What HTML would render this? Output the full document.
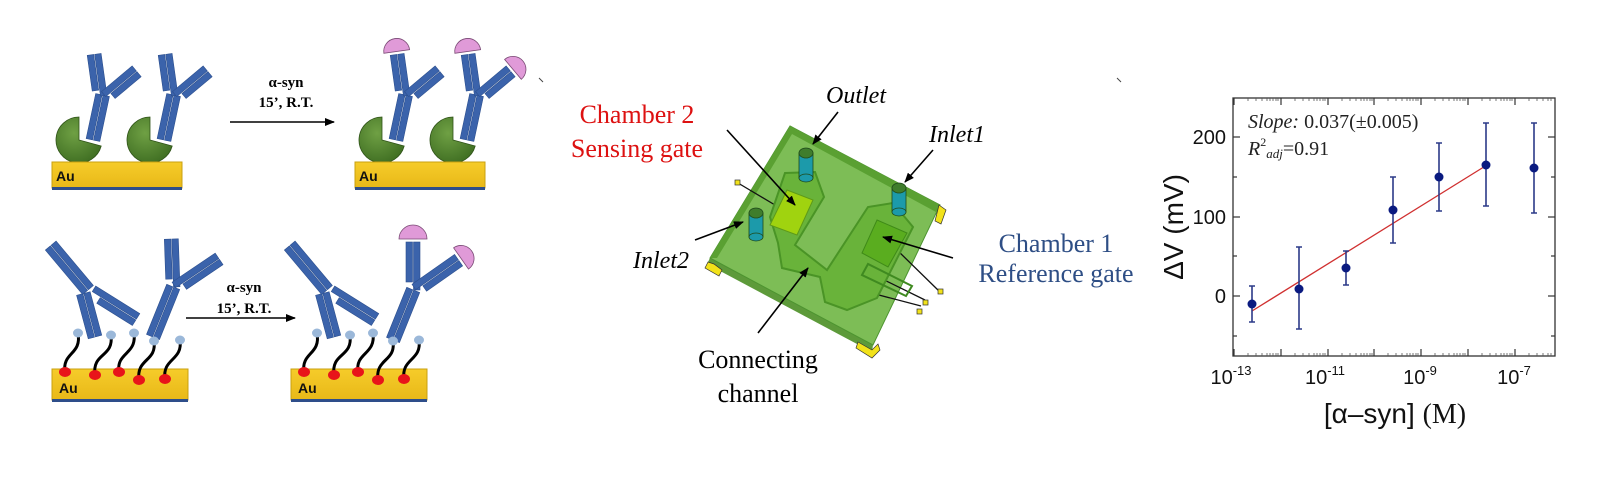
<!DOCTYPE html>
<html><head><meta charset="utf-8"><style>
html,body{margin:0;padding:0;background:#fff;}
svg{display:block;}
</style></head><body>
<svg width="1598" height="488" viewBox="0 0 1598 488" xmlns="http://www.w3.org/2000/svg">
<defs>
<marker id="ah" markerWidth="10" markerHeight="8" refX="9" refY="4" orient="auto" markerUnits="userSpaceOnUse">
<path d="M0,0 L10,4 L0,8 Z" fill="#000"/></marker>
<linearGradient id="au" x1="0" y1="0" x2="0" y2="1"><stop offset="0" stop-color="#f6cc2a"/><stop offset="1" stop-color="#e8b818"/></linearGradient>
<radialGradient id="pac" cx="0.4" cy="0.35" r="0.7"><stop offset="0" stop-color="#6fa044"/><stop offset="1" stop-color="#3f6e22"/></radialGradient>
</defs>

<!-- ============ LEFT PANEL ============ -->
<g fill="#3b63ab" stroke="#2c4f8e" stroke-width="0.6">
<!-- top-left AB1 -->
<g transform="translate(93,140) rotate(12)"><rect x="-7" y="-46" width="6.5" height="46"/><rect x="0.5" y="-46" width="6.5" height="46"/></g>
<g transform="translate(100,96) rotate(-8)"><rect x="-7" y="-42" width="6.5" height="36"/><rect x="0.5" y="-42" width="6.5" height="42"/></g>
<g transform="translate(106,97) rotate(50)"><rect x="-7" y="-40" width="6.5" height="40"/><rect x="0.5" y="-40" width="6.5" height="34"/></g>
<!-- top-left AB2 -->
<g transform="translate(164,140) rotate(12)"><rect x="-7" y="-46" width="6.5" height="46"/><rect x="0.5" y="-46" width="6.5" height="46"/></g>
<g transform="translate(171,96) rotate(-8)"><rect x="-7" y="-42" width="6.5" height="36"/><rect x="0.5" y="-42" width="6.5" height="42"/></g>
<g transform="translate(177,97) rotate(50)"><rect x="-7" y="-40" width="6.5" height="40"/><rect x="0.5" y="-40" width="6.5" height="34"/></g>
<!-- top-right AB1 -->
<g transform="translate(396,140) rotate(12)"><rect x="-7" y="-46" width="6.5" height="46"/><rect x="0.5" y="-46" width="6.5" height="46"/></g>
<g transform="translate(403,96) rotate(-8)"><rect x="-7" y="-42" width="6.5" height="36"/><rect x="0.5" y="-42" width="6.5" height="42"/></g>
<g transform="translate(409,97) rotate(50)"><rect x="-7" y="-40" width="6.5" height="40"/><rect x="0.5" y="-40" width="6.5" height="34"/></g>
<!-- top-right AB2 -->
<g transform="translate(467,140) rotate(12)"><rect x="-7" y="-46" width="6.5" height="46"/><rect x="0.5" y="-46" width="6.5" height="46"/></g>
<g transform="translate(474,96) rotate(-8)"><rect x="-7" y="-42" width="6.5" height="36"/><rect x="0.5" y="-42" width="6.5" height="42"/></g>
<g transform="translate(480,97) rotate(50)"><rect x="-7" y="-40" width="6.5" height="40"/><rect x="0.5" y="-40" width="6.5" height="34"/></g>

<!-- bottom-left AB1 -->
<g transform="translate(95,337) rotate(-15)"><rect x="-7" y="-45" width="6.5" height="45"/><rect x="0.5" y="-45" width="6.5" height="45"/></g>
<g transform="translate(88,290) rotate(-40)"><rect x="-7" y="-58" width="6.5" height="58"/><rect x="0.5" y="-58" width="6.5" height="58"/></g>
<g transform="translate(92,292) rotate(122)"><rect x="-7" y="-52" width="6.5" height="52"/><rect x="0.5" y="-52" width="6.5" height="42"/></g>
<!-- bottom-left AB2 -->
<g transform="translate(153,337) rotate(22)"><rect x="-7" y="-54" width="6.5" height="54"/><rect x="0.5" y="-54" width="6.5" height="54"/></g>
<g transform="translate(173,287) rotate(-2)"><rect x="-7" y="-48" width="6.5" height="40"/><rect x="0.5" y="-48" width="6.5" height="48"/></g>
<g transform="translate(176,288) rotate(56)"><rect x="-7" y="-52" width="6.5" height="52"/><rect x="0.5" y="-52" width="6.5" height="44"/></g>
<!-- bottom-right AB1 -->
<g transform="translate(334,337) rotate(-15)"><rect x="-7" y="-45" width="6.5" height="45"/><rect x="0.5" y="-45" width="6.5" height="45"/></g>
<g transform="translate(327,290) rotate(-40)"><rect x="-7" y="-58" width="6.5" height="58"/><rect x="0.5" y="-58" width="6.5" height="58"/></g>
<g transform="translate(331,292) rotate(122)"><rect x="-7" y="-52" width="6.5" height="52"/><rect x="0.5" y="-52" width="6.5" height="42"/></g>
<!-- bottom-right AB2 -->
<g transform="translate(393,340) rotate(22)"><rect x="-7" y="-54" width="6.5" height="54"/><rect x="0.5" y="-54" width="6.5" height="54"/></g>
<g transform="translate(413,290) rotate(0)"><rect x="-7" y="-48" width="6.5" height="40"/><rect x="0.5" y="-48" width="6.5" height="48"/></g>
<g transform="translate(416,290) rotate(55)"><rect x="-7" y="-52" width="6.5" height="52"/><rect x="0.5" y="-52" width="6.5" height="44"/></g>
</g>

<!-- antigens -->
<g fill="#e09ad8" stroke="#7a4a75" stroke-width="0.8">
<g transform="translate(403,96) rotate(-8)"><path d="M-13,-45 A13,13 0 0 1 13,-45 Z"/></g>
<g transform="translate(474,96) rotate(-8)"><path d="M-13,-45 A13,13 0 0 1 13,-45 Z"/></g>
<g transform="translate(480,97) rotate(50)"><path d="M-13,-43 A13,13 0 0 1 13,-43 Z"/></g>
<g transform="translate(413,290)"><path d="M-14,-51 A14,14 0 0 1 14,-51 Z"/></g>
<g transform="translate(416,290) rotate(55)"><path d="M-13,-55 A13,13 0 0 1 13,-55 Z"/></g>
</g>

<!-- pacmen -->
<g fill="url(#pac)" stroke="#2f5318" stroke-width="0.8">
<path d="M79,140 L101.2,146 A23,23 0 1 1 79,117 Z"/>
<path d="M150,140 L172.2,146 A23,23 0 1 1 150,117 Z"/>
<path d="M382,140 L404.2,146 A23,23 0 1 1 382,117 Z"/>
<path d="M453,140 L475.2,146 A23,23 0 1 1 453,117 Z"/>
</g>

<!-- Au bars -->
<g>
<rect x="52" y="162" width="130" height="26" fill="url(#au)" stroke="#c9a010" stroke-width="1"/><rect x="52" y="187" width="130" height="3" fill="#2e4e8a"/>
<rect x="355" y="162" width="130" height="26" fill="url(#au)" stroke="#c9a010" stroke-width="1"/><rect x="355" y="187" width="130" height="3" fill="#2e4e8a"/>
<rect x="52" y="369" width="136" height="31" fill="url(#au)" stroke="#c9a010" stroke-width="1"/><rect x="52" y="399" width="136" height="3" fill="#2e4e8a"/>
<rect x="291" y="369" width="136" height="31" fill="url(#au)" stroke="#c9a010" stroke-width="1"/><rect x="291" y="399" width="136" height="3" fill="#2e4e8a"/>
</g>
<g font-family="Liberation Sans, sans-serif" font-weight="bold" font-size="14" fill="#111">
<text x="56" y="181">Au</text><text x="359" y="181">Au</text>
<text x="59" y="393">Au</text><text x="298" y="393">Au</text>
</g>

<!-- linkers -->
<g fill="none" stroke="#000" stroke-width="3">
<path d="M65,372 C62,352 82,355 78,333"/>
<path d="M95,375 C92,352 114,358 111,335"/>
<path d="M119,372 C116,352 137,355 134,333"/>
<path d="M139,380 C136,358 157,362 154,341"/>
<path d="M165,379 C162,358 183,361 180,340"/>
<path d="M304,372 C301,352 321,355 317,333"/>
<path d="M334,375 C331,352 353,358 350,335"/>
<path d="M358,372 C355,352 376,355 373,333"/>
<path d="M378,380 C375,358 396,362 393,341"/>
<path d="M404,379 C401,358 422,361 419,340"/>
</g>
<g fill="#e8141a">
<ellipse cx="65" cy="372" rx="6" ry="5"/><ellipse cx="95" cy="375" rx="6" ry="5"/><ellipse cx="119" cy="372" rx="6" ry="5"/><ellipse cx="139" cy="380" rx="6" ry="5"/><ellipse cx="165" cy="379" rx="6" ry="5"/>
<ellipse cx="304" cy="372" rx="6" ry="5"/><ellipse cx="334" cy="375" rx="6" ry="5"/><ellipse cx="358" cy="372" rx="6" ry="5"/><ellipse cx="378" cy="380" rx="6" ry="5"/><ellipse cx="404" cy="379" rx="6" ry="5"/>
</g>
<g fill="#9bb8d9">
<ellipse cx="78" cy="333" rx="5" ry="4.5"/><ellipse cx="111" cy="335" rx="5" ry="4.5"/><ellipse cx="134" cy="333" rx="5" ry="4.5"/><ellipse cx="154" cy="341" rx="5" ry="4.5"/><ellipse cx="180" cy="340" rx="5" ry="4.5"/>
<ellipse cx="317" cy="333" rx="5" ry="4.5"/><ellipse cx="350" cy="335" rx="5" ry="4.5"/><ellipse cx="373" cy="333" rx="5" ry="4.5"/><ellipse cx="393" cy="341" rx="5" ry="4.5"/><ellipse cx="419" cy="340" rx="5" ry="4.5"/>
</g>

<!-- reaction arrows -->
<g stroke="#000" stroke-width="1.5">
<line x1="230" y1="122" x2="334" y2="122" marker-end="url(#ah)"/>
<line x1="186" y1="318" x2="295" y2="318" marker-end="url(#ah)"/>
</g>
<g font-family="Liberation Serif, serif" font-weight="bold" font-size="15" fill="#000" text-anchor="middle">
<text x="286" y="87">α-syn</text><text x="286" y="107">15’, R.T.</text>
<text x="244" y="292">α-syn</text><text x="244" y="313">15’, R.T.</text>
</g>

<!-- small tick marks -->
<path d="M539,78 L543,82" stroke="#444" stroke-width="1"/>
<path d="M1117,78 L1121,82" stroke="#444" stroke-width="1"/>

<!-- ============ MIDDLE CHIP ============ -->
<!-- plate thickness -->
<polygon points="710,258 873,345 872,352 707,264" fill="#5d9a3a"/>
<polygon points="790,126 940,205 873,345 710,258" fill="#7dbd56" stroke="#4d9430" stroke-width="1"/>
<!-- rim on top and left edges -->
<polygon points="790,126 940,205 936,212 792,134 717,258 710,258" fill="#5aa032"/>
<!-- wires -->
<g stroke="#111" stroke-width="1.3" fill="none">
<line x1="738" y1="183" x2="775" y2="205"/>
<line x1="895" y1="248" x2="940" y2="292"/>
<polyline points="862,277 856,289 921,306"/>
<polyline points="868,272 925,300"/>
</g>
<!-- channel -->
<polygon points="785,173 815,172 824,197 795,245 827,270 868,207 893,203 913,227 877,298 847,310 825,302 820,277 782,268 778,243 770,217" fill="#69b33a" stroke="#4a9426" stroke-width="2"/>
<!-- electrode L -->
<polygon points="862,275 868,264 912,286 906,296" fill="none" stroke="#3f8a20" stroke-width="2"/>
<!-- chambers -->
<polygon points="787,190 813,200 797,235 770,225" fill="#a0d30f" stroke="#5e9a18" stroke-width="1"/>
<polygon points="877,220 907,233 888,267 862,253" fill="#5aad1f" stroke="#3f8a18" stroke-width="1"/>
<!-- cylinders -->
<g stroke="#1f4a1a" stroke-width="0.8">
<rect x="799" y="153" width="14" height="25" fill="#1c9aaa"/><ellipse cx="806" cy="178" rx="7" ry="4" fill="#1c9aaa"/><ellipse cx="806" cy="153" rx="7" ry="5" fill="#3f7d2c"/>
<rect x="892" y="188" width="14" height="24" fill="#1c9aaa"/><ellipse cx="899" cy="212" rx="7" ry="4" fill="#1c9aaa"/><ellipse cx="899" cy="188" rx="7" ry="5" fill="#3f7d2c"/>
<rect x="749" y="213" width="14" height="24" fill="#1c9aaa"/><ellipse cx="756" cy="237" rx="7" ry="4" fill="#1c9aaa"/><ellipse cx="756" cy="213" rx="7" ry="5" fill="#3f7d2c"/>
</g>
<!-- pads -->
<g fill="#f2e21a" stroke="#333" stroke-width="0.7">
<polygon points="708,262 714,264 722,270 719,276 705,268"/>
<polygon points="858,342 872,350 878,344 880,350 872,358 856,348"/>
<polygon points="939,205 946,210 941,224 935,221"/>
<rect x="735" y="180" width="5" height="5"/>
<rect x="938" y="289" width="5" height="5"/>
<rect x="923" y="300" width="5" height="5"/>
<rect x="917" y="309" width="5" height="5"/>
</g>
<!-- callout arrows -->
<g stroke="#000" stroke-width="1.6" marker-end="url(#ah)">
<line x1="838" y1="112" x2="813" y2="144"/>
<line x1="727" y1="130" x2="795" y2="205"/>
<line x1="933" y1="150" x2="905" y2="182"/>
<line x1="695" y1="240" x2="743" y2="222"/>
<line x1="953" y1="258" x2="883" y2="237"/>
<line x1="758" y1="333" x2="808" y2="268"/>
</g>
<g font-family="Liberation Serif, serif" font-size="26">
<text x="637" y="123" fill="#d11" text-anchor="middle">Chamber 2</text>
<text x="637" y="157" fill="#d11" text-anchor="middle">Sensing gate</text>
<text x="856" y="103" font-style="italic" font-size="24" text-anchor="middle">Outlet</text>
<text x="957" y="142" font-style="italic" font-size="24" text-anchor="middle">Inlet1</text>
<text x="661" y="268" font-style="italic" font-size="24" text-anchor="middle">Inlet2</text>
<text x="1056" y="252" fill="#2e4e85" text-anchor="middle">Chamber 1</text>
<text x="1056" y="282" fill="#2e4e85" text-anchor="middle">Reference gate</text>
<text x="758" y="368" text-anchor="middle">Connecting</text>
<text x="758" y="402" text-anchor="middle">channel</text>
</g>

<!-- ============ PLOT ============ -->
<rect x="1233" y="98" width="322" height="258" fill="none" stroke="#333" stroke-width="1.3"/>
<g stroke="#333" stroke-width="1.2">
<!-- y ticks -->
<line x1="1233" y1="137" x2="1240" y2="137"/><line x1="1233" y1="217" x2="1240" y2="217"/><line x1="1233" y1="296" x2="1240" y2="296"/>
<line x1="1233" y1="177" x2="1237" y2="177"/><line x1="1233" y1="256" x2="1237" y2="256"/><line x1="1233" y1="336" x2="1237" y2="336"/>
<line x1="1555" y1="137" x2="1548" y2="137"/><line x1="1555" y1="217" x2="1548" y2="217"/><line x1="1555" y1="296" x2="1548" y2="296"/>
<line x1="1555" y1="177" x2="1551" y2="177"/><line x1="1555" y1="256" x2="1551" y2="256"/><line x1="1555" y1="336" x2="1551" y2="336"/>
<!-- x major -->
<line x1="1234" y1="356" x2="1234" y2="349"/><line x1="1281" y1="356" x2="1281" y2="349"/><line x1="1328" y1="356" x2="1328" y2="349"/><line x1="1374" y1="356" x2="1374" y2="349"/><line x1="1421" y1="356" x2="1421" y2="349"/><line x1="1468" y1="356" x2="1468" y2="349"/><line x1="1515" y1="356" x2="1515" y2="349"/>
<line x1="1234" y1="98" x2="1234" y2="105"/><line x1="1281" y1="98" x2="1281" y2="105"/><line x1="1328" y1="98" x2="1328" y2="105"/><line x1="1374" y1="98" x2="1374" y2="105"/><line x1="1421" y1="98" x2="1421" y2="105"/><line x1="1468" y1="98" x2="1468" y2="105"/><line x1="1515" y1="98" x2="1515" y2="105"/>
</g>
<g stroke="#555" stroke-width="0.8">
<path d="M1248,356v-3M1256,356v-3M1262,356v-3M1267,356v-3M1270,356v-3M1273,356v-3M1276,356v-3M1278,356v-3M1295,356v-3M1303,356v-3M1309,356v-3M1314,356v-3M1317,356v-3M1320,356v-3M1323,356v-3M1325,356v-3M1342,356v-3M1350,356v-3M1356,356v-3M1361,356v-3M1364,356v-3M1367,356v-3M1370,356v-3M1372,356v-3M1435,356v-3M1443,356v-3M1449,356v-3M1454,356v-3M1457,356v-3M1460,356v-3M1463,356v-3M1465,356v-3M1388,356v-3M1396,356v-3M1402,356v-3M1407,356v-3M1410,356v-3M1413,356v-3M1416,356v-3M1418,356v-3M1482,356v-3M1490,356v-3M1496,356v-3M1501,356v-3M1504,356v-3M1507,356v-3M1510,356v-3M1512,356v-3M1529,356v-3M1537,356v-3M1543,356v-3M1548,356v-3M1551,356v-3"/>
<path d="M1248,98v3M1256,98v3M1262,98v3M1267,98v3M1270,98v3M1273,98v3M1276,98v3M1278,98v3M1295,98v3M1303,98v3M1309,98v3M1314,98v3M1317,98v3M1320,98v3M1323,98v3M1325,98v3M1342,98v3M1350,98v3M1356,98v3M1361,98v3M1364,98v3M1367,98v3M1370,98v3M1372,98v3M1435,98v3M1443,98v3M1449,98v3M1454,98v3M1457,98v3M1460,98v3M1463,98v3M1465,98v3M1388,98v3M1396,98v3M1402,98v3M1407,98v3M1410,98v3M1413,98v3M1416,98v3M1418,98v3M1482,98v3M1490,98v3M1496,98v3M1501,98v3M1504,98v3M1507,98v3M1510,98v3M1512,98v3M1529,98v3M1537,98v3M1543,98v3M1548,98v3M1551,98v3"/>
</g>
<!-- fit line -->
<line x1="1252" y1="311" x2="1487" y2="165" stroke="#d03030" stroke-width="1.3"/>
<!-- error bars -->
<g stroke="#2c3a88" stroke-width="1.6">
<path d="M1252,286V322M1249,286h6M1249,322h6"/>
<path d="M1299,247V329M1296,247h6M1296,329h6"/>
<path d="M1346,251V285M1343,251h6M1343,285h6"/>
<path d="M1393,177V243M1390,177h6M1390,243h6"/>
<path d="M1439,143V211M1436,143h6M1436,211h6"/>
<path d="M1486,123V206M1483,123h6M1483,206h6"/>
<path d="M1534,123V213M1531,123h6M1531,213h6"/>
</g>
<g fill="#0a1a80">
<circle cx="1252" cy="304" r="4.5"/><circle cx="1299" cy="289" r="4.5"/><circle cx="1346" cy="268" r="4.5"/><circle cx="1393" cy="210" r="4.5"/><circle cx="1439" cy="177" r="4.5"/><circle cx="1486" cy="165" r="4.5"/><circle cx="1534" cy="168" r="4.5"/>
</g>
<g font-family="Liberation Sans, sans-serif" font-size="20" fill="#111">
<text x="1226" y="144" text-anchor="end">200</text>
<text x="1226" y="224" text-anchor="end">100</text>
<text x="1226" y="303" text-anchor="end">0</text>
<text x="1231" y="384" text-anchor="middle">10<tspan font-size="13" dy="-9">-13</tspan></text>
<text x="1325" y="384" text-anchor="middle">10<tspan font-size="13" dy="-9">-11</tspan></text>
<text x="1420" y="384" text-anchor="middle">10<tspan font-size="13" dy="-9">-9</tspan></text>
<text x="1514" y="384" text-anchor="middle">10<tspan font-size="13" dy="-9">-7</tspan></text>
<text transform="translate(1183,227) rotate(-90)" text-anchor="middle" font-size="28">ΔV (mV)</text>
<text x="1395" y="423" text-anchor="middle" font-size="28">[α–syn] <tspan font-family="Liberation Serif, serif">(M)</tspan></text>
</g>
<g font-family="Liberation Serif, serif" font-size="20" fill="#222">
<text x="1248" y="128"><tspan font-style="italic">Slope:</tspan> 0.037(±0.005)</text>
<text x="1248" y="155"><tspan font-style="italic">R</tspan><tspan font-size="12" dy="-9">2</tspan><tspan font-style="italic" font-size="13" dy="12">adj</tspan><tspan dy="-3">=0.91</tspan></text>
</g>
</svg>
</body></html>
